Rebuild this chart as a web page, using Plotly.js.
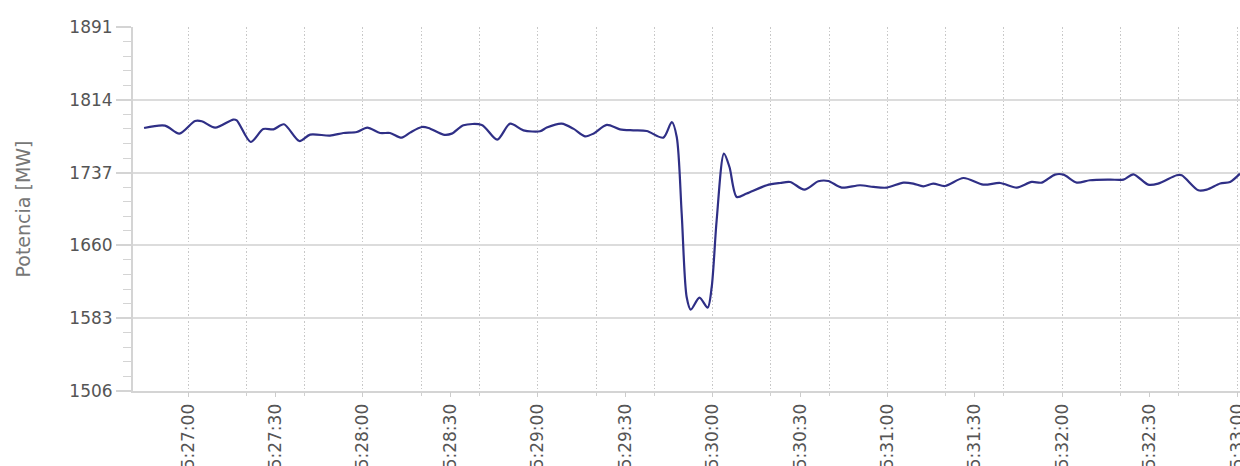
<!DOCTYPE html>
<html>
<head>
<meta charset="utf-8">
<script src="https://cdn.plot.ly/plotly-3.0.1.min.js"></script>
<style>
html,body{margin:0;padding:0;background:#fff;}
#chart{width:1240px;height:466px;}
</style>
</head>
<body>
<div id="chart"></div>
<script>
// Time stamps (hh:mm:ss.s)
const times = [
 "15:26:44.9","15:26:52.1","15:26:57.0","15:27:02.4","15:27:04.7","15:27:09.3","15:27:15.5","15:27:16.7",
 "15:27:21.5","15:27:25.8","15:27:29.3","15:27:32.9","15:27:38.2","15:27:41.9","15:27:48.7","15:27:53.3",
 "15:27:57.9","15:28:01.5","15:28:05.9","15:28:09.3","15:28:13.3","15:28:16.2","15:28:20.2","15:28:22.5",
 "15:28:27.6","15:28:30.5","15:28:34.5","15:28:40.8","15:28:46.1","15:28:50.5","15:28:55.1","15:29:00.8",
 "15:29:03.1","15:29:08.2","15:29:12.2","15:29:16.2","15:29:19.1","15:29:23.7","15:29:28.2","15:29:32.8",
 "15:29:37.4","15:29:43.1","15:29:46.0","15:29:47.7","15:29:49.4","15:29:51.1","15:29:52.5","15:29:55.5",
 "15:29:58.3","15:29:59.7","15:30:01.4","15:30:03.9","15:30:05.8","15:30:08.3","15:30:11.7","15:30:18.6",
 "15:30:23.2","15:30:26.6","15:30:31.5","15:30:36.3","15:30:39.7","15:30:44.3","15:30:50.6","15:30:55.2",
 "15:30:59.8","15:31:05.5","15:31:08.9","15:31:12.3","15:31:15.7","15:31:19.8","15:31:26.1","15:31:32.9",
 "15:31:38.7","15:31:44.4","15:31:49.5","15:31:53.0","15:31:57.5","15:32:00.4","15:32:05.0","15:32:09.5",
 "15:32:16.4","15:32:21.0","15:32:24.4","15:32:29.5","15:32:32.9","15:32:39.3","15:32:41.0","15:32:46.7",
 "15:32:49.6","15:32:54.2","15:32:57.6","15:33:01.0"
];
// Potencia [MW]
const potencia = [
 1784.2,1786.7,1778.2,1791.6,1791.3,1784.6,1793.1,1792.3,
 1769.4,1783.1,1782.8,1788.1,1770.4,1777.2,1776.1,1778.9,
 1779.9,1784.6,1778.9,1778.9,1774.0,1779.3,1785.2,1784.2,
 1777.2,1778.2,1787.0,1787.4,1771.9,1788.8,1781.7,1780.7,
 1784.6,1788.8,1783.5,1775.4,1778.2,1787.4,1782.8,1781.7,
 1781.0,1774.0,1790.5,1774.7,1693.6,1605.4,1592.1,1604.8,
 1594.2,1616.0,1686.6,1757.1,1742.9,1711.2,1714.8,1723.6,
 1726.0,1727.1,1719.0,1727.8,1728.1,1721.1,1723.6,1721.8,
 1721.1,1726.4,1725.4,1722.5,1725.4,1722.8,1731.3,1724.3,
 1726.0,1721.1,1727.1,1726.4,1734.9,1734.9,1726.4,1728.9,
 1729.6,1729.6,1735.2,1724.3,1725.4,1734.2,1734.2,1718.3,
 1719.0,1725.4,1727.1,1735.9
];
const yTicks = [1506, 1583, 1660, 1737, 1814, 1891];
const day = "2000-01-01 ";
const xRange = [day + "15:26:41.1", day + "15:33:01.0"];
const xs = times.map(t => day + t);

const trace = {
  x: xs,
  y: potencia,
  type: "scatter",
  mode: "lines",
  line: {color: "#2f2f86", width: 2.2, shape: "spline", smoothing: 0.8},
  hoverinfo: "x+y"
};
// invisible copy that only carries the labelled 30 s axis
const labelAxisTrace = {
  x: xs, y: potencia, xaxis: "x2", type: "scatter", mode: "lines",
  line: {color: "rgba(0,0,0,0)", width: 0}, hoverinfo: "skip"
};

const layout = {
  width: 1240, height: 466,
  margin: {l: 133, r: 0, t: 27, b: 75},
  paper_bgcolor: "#ffffff",
  plot_bgcolor: "#ffffff",
  showlegend: false,
  font: {family: "DejaVu Sans, Verdana, sans-serif", color: "#666666", size: 17},
  // 20 s dotted grid + small ticks
  xaxis: {
    type: "date",
    range: xRange,
    tick0: day + "15:27:00",
    dtick: 20000,
    showticklabels: false,
    ticks: "outside",
    ticklen: 3,
    tickcolor: "#d0d0d0",
    showgrid: true,
    gridcolor: "#c8c8c8",
    griddash: "1.5px,2px",
    gridwidth: 1,
    showline: true,
    linecolor: "#d4d4d4",
    linewidth: 2,
    zeroline: false
  },
  // 30 s labelled ticks
  xaxis2: {
    type: "date",
    overlaying: "x",
    side: "bottom",
    anchor: "y",
    range: xRange,
    tick0: day + "15:27:00",
    dtick: 30000,
    tickformat: "%H:%M:%S",
    tickangle: -90,
    ticks: "outside",
    ticklen: 5,
    tickcolor: "#cccccc",
    showgrid: false,
    showline: false,
    zeroline: false,
    ticklabeloverflow: "allow",
    tickfont: {size: 17, color: "#555555"}
  },
  yaxis: {
    range: [1506, 1891],
    tickmode: "array",
    tickvals: yTicks,
    ticktext: yTicks.map(String),
    ticks: "outside",
    ticklen: 15,
    tickcolor: "#d4d4d4",
    tickwidth: 2,
    showgrid: true,
    gridcolor: "#dcdcdc",
    gridwidth: 2,
    showline: true,
    linecolor: "#d4d4d4",
    linewidth: 2,
    zeroline: false,
    tickfont: {size: 17, color: "#555555"},
    title: {text: "Potencia [MW]", font: {size: 19, color: "#777777"}, standoff: 34},
    minor: {
      dtick: 15.4,
      tick0: 1506,
      ticks: "outside",
      ticklen: 8,
      tickcolor: "#d4d4d4",
      tickwidth: 1,
      showgrid: false
    }
  }
};

Plotly.newPlot("chart", [trace, labelAxisTrace], layout, {displayModeBar: false, staticPlot: true});
</script>
</body>
</html>
